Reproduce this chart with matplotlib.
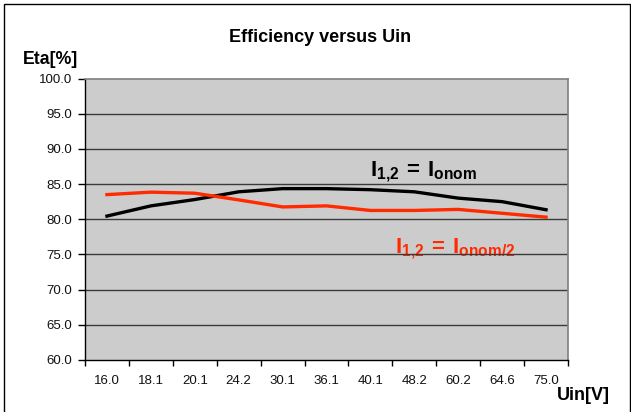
import matplotlib
matplotlib.use("Agg")
import matplotlib.pyplot as plt
from matplotlib.patches import Rectangle
from matplotlib.ticker import FixedLocator, FuncFormatter

plt.rcParams['font.family'] = ['Liberation Sans', 'DejaVu Sans']

categories = ["16.0", "18.1", "20.1", "24.2", "30.1", "36.1", "40.1", "48.2", "60.2", "64.6", "75.0"]
eta_nom = [80.45, 81.9, 82.8, 83.9, 84.35, 84.35, 84.2, 83.9, 83.0, 82.5, 81.35]
eta_half = [83.5, 83.85, 83.7, 82.75, 81.75, 81.9, 81.25, 81.25, 81.4, 80.85, 80.3]
yticks = [60, 65, 70, 75, 80, 85, 90, 95, 100]

W, H = 631, 412
fig = plt.figure(figsize=(W / 100, H / 100), dpi=100)
fig.patch.set_facecolor('white')

l, r, t, b = 85, 568, 78.5, 360
ax = fig.add_axes([l / W, 1 - b / H, (r - l) / W, (b - t) / H])
ax.set_facecolor('#cccccc')

x = list(range(len(categories)))
for yv in yticks[1:-1]:
    ax.axhline(yv, color='#3a3a3a', lw=1.0, zorder=1)

ax.plot(x, eta_nom, color='black', lw=2.4, zorder=3, solid_joinstyle='round')
ax.plot(x, eta_half, color='#ff2a00', lw=2.4, zorder=3, solid_joinstyle='round')

ax.set_xlim(-0.5, len(categories) - 0.5)
ax.set_ylim(60, 100)

ax.xaxis.set_major_locator(FixedLocator([i - 0.5 for i in range(len(categories) + 1)]))
ax.xaxis.set_major_formatter(FuncFormatter(lambda v, p: ''))
ax.xaxis.set_minor_locator(FixedLocator(x))
ax.set_xticklabels(categories, minor=True)
ax.tick_params(axis='x', which='major', direction='out', length=4, width=1, color='black')
ax.tick_params(axis='x', which='minor', length=0, pad=11, labelsize=9.5, labelcolor='#111111')

ax.set_yticks(yticks)
ax.yaxis.set_major_formatter(FuncFormatter(lambda v, p: f"{v:.1f}"))
ax.tick_params(axis='y', direction='out', length=5, width=1, pad=4, labelsize=9.5, color='black', labelcolor='#111111')

for s in ['top', 'right']:
    ax.spines[s].set_color('#808080')
    ax.spines[s].set_linewidth(1.2)
for s in ['left', 'bottom']:
    ax.spines[s].set_color('black')
    ax.spines[s].set_linewidth(1.0)

ax.text(6.0, 84.95, r'$\mathregular{I_{1{,}2}\,=\,I_{onom}}$', fontsize=16, fontweight='bold',
        color='black', ha='left', va='bottom', zorder=2)
ax.text(6.55, 74.0, r'$\mathregular{I_{1{,}2}\,=\,I_{onom/2}}$', fontsize=16, fontweight='bold',
        color='#ff2a00', ha='left', va='bottom', zorder=0.8)

fig.text(320 / W, 1 - 37 / H, 'Efficiency versus Uin', fontsize=13, fontweight='bold',
         ha='center', va='center')
fig.text(50 / W, 1 - 59 / H, 'Eta[%]', fontsize=12.8, fontweight='bold', ha='center', va='center')
fig.text(583 / W, 1 - 395 / H, 'Uin[V]', fontsize=13, fontweight='bold', ha='center', va='center')

fig.add_artist(Rectangle((3.5 / W, -0.02), (629.5 - 3.5) / W, 1 - 3.5 / H + 0.02,
                         transform=fig.transFigure, fill=False, edgecolor='black', lw=1.0))

fig.savefig('out.png', dpi=100, facecolor='white')
